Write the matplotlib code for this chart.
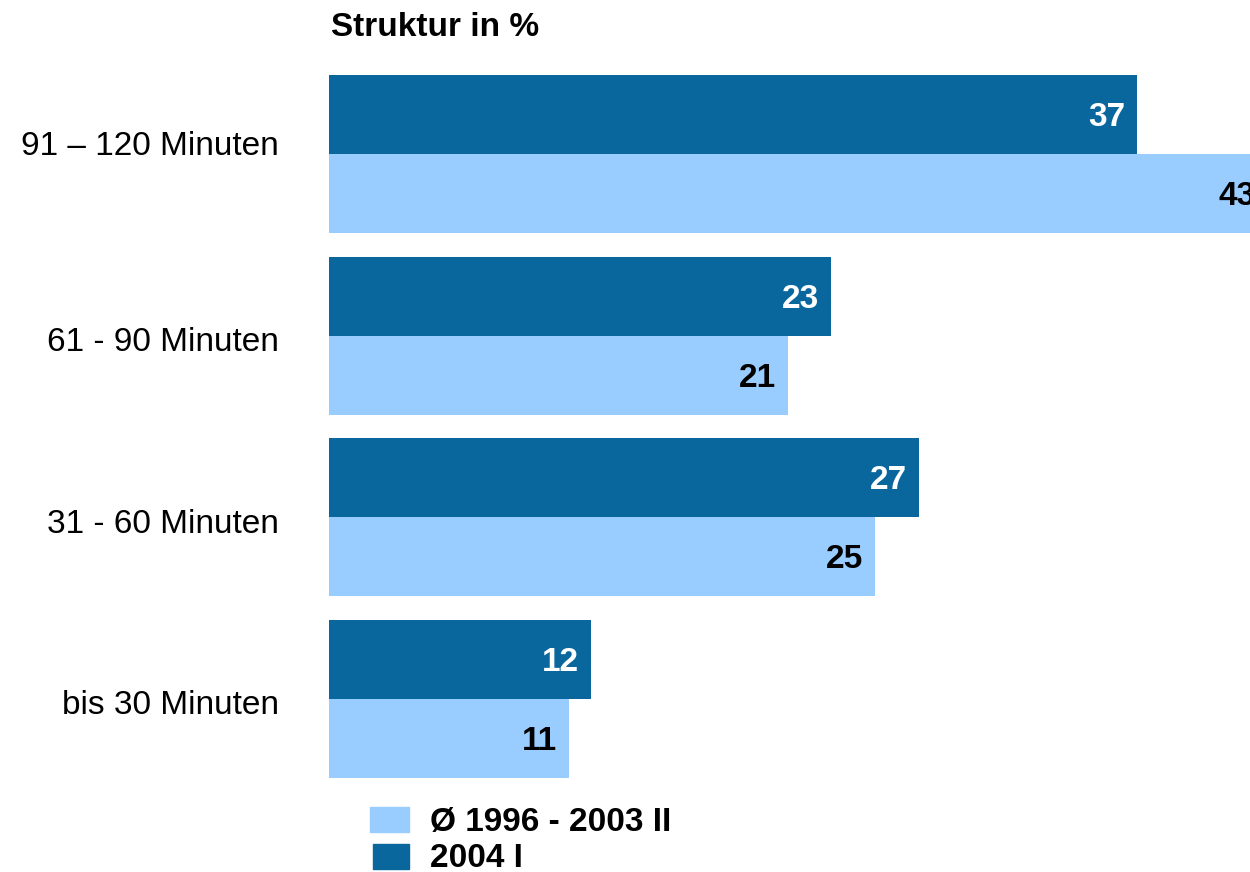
import numpy as np
import matplotlib
matplotlib.use("Agg")
import matplotlib.pyplot as plt
from matplotlib.patches import Rectangle

plt.rcParams['font.family'] = ['Liberation Sans', 'DejaVu Sans']

categories = ["91 – 120 Minuten", "61 - 90 Minuten", "31 - 60 Minuten", "bis 30 Minuten"]
werte_2004 = [37, 23, 27, 12]
werte_avg = [43, 21, 25, 11]
legend_labels = ["Ø 1996 - 2003 II", "2004 I"]

dunkel = "#0A679D"
hell = "#99CCFF"

fig = plt.figure(figsize=(12.5, 8.72), dpi=100)
ax = fig.add_axes([329/1250, 1 - 778/872, 921/1250, 703/872])

y = np.arange(len(categories))
h = 79/181  # Balkenhoehe relativ zum Gruppenabstand

b1 = ax.barh(y - h/2, werte_2004, height=h, color=dunkel)
b2 = ax.barh(y + h/2, werte_avg, height=h, color=hell)

for bar, v in zip(b1, werte_2004):
    ax.annotate(str(v), (bar.get_width(), bar.get_y() + bar.get_height()/2),
                xytext=(-12, -3), textcoords="offset pixels", ha="right", va="center",
                color="white", fontsize=24, fontweight="bold", annotation_clip=False)
for bar, v in zip(b2, werte_avg):
    ax.annotate(str(v), (bar.get_width(), bar.get_y() + bar.get_height()/2),
                xytext=(-12, -3), textcoords="offset pixels", ha="right", va="center",
                color="black", fontsize=24, fontweight="bold", annotation_clip=False)

ax.set_xlim(0, 921/21.84)
ax.set_ylim(3 + h, -h)
# Beschriftungen leicht versetzt wie im Original
ax.set_yticks(y + np.array([-11, 3, 4, 3]) / 181)
ax.set_yticklabels(categories, fontsize=24)
ax.tick_params(axis="y", length=0, pad=36)
ax.set_xticks([])
for s in ax.spines.values():
    s.set_visible(False)

fig.text(331/1250, 1 - 28/872, "Struktur in %", fontsize=24, fontweight="bold",
         ha="left", va="center")

# Legende
fig.add_artist(Rectangle((370/1250, 1 - 832/872), 39/1250, 25/872,
                         transform=fig.transFigure, color=hell))
fig.add_artist(Rectangle((373/1250, 1 - 869/872), 36/1250, 25/872,
                         transform=fig.transFigure, color=dunkel))
fig.text(430/1250, 1 - 822/872, legend_labels[0], fontsize=24, fontweight="bold",
         ha="left", va="center")
fig.text(430/1250, 1 - 858/872, legend_labels[1], fontsize=24, fontweight="bold",
         ha="left", va="center")

fig.savefig("out.png", dpi=100)
